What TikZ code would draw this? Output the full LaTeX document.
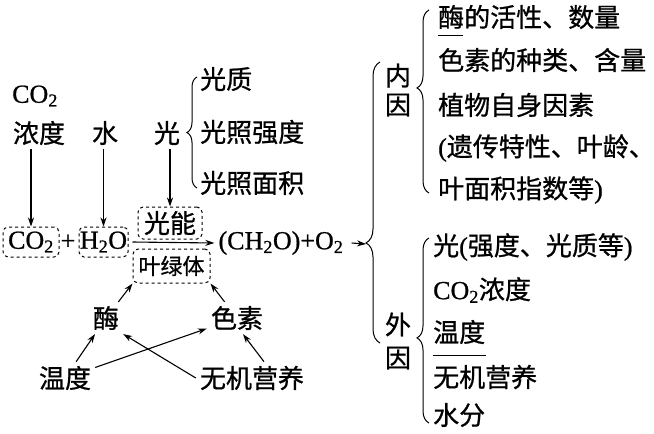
\documentclass[tikz,border=0pt]{standalone}
\usepackage{fontspec}
\setmainfont{Liberation Serif}[FakeBold=0.8]
\newfontfamily\cjk{Noto Sans CJK SC}[FakeBold=0.8]
\usetikzlibrary{decorations.pathreplacing, arrows.meta}

\tikzset{
  txt/.style={inner sep=4pt},
  dbox/.style={draw, dashed, rounded corners=5pt, line width=1pt, inner sep=0pt},
  arr/.style={-{Stealth[length=9pt, width=6pt]}, line width=1.1pt},
  brc/.style={decorate, decoration={brace, amplitude=12pt}, line width=1pt},
}

\begin{document}
\begin{tikzpicture}[x=1pt, y=-1pt, font=\fontsize{26}{30}\selectfont]
\useasboundingbox (0,0) rectangle (654,434);

% Factors above the equation
\node[txt, anchor=west] (co2t) at (8,96) {CO\textsubscript{2}};
\node[txt] (nongdu) at (39,133) {\cjk 浓度};
\node[txt] (shui) at (105,133) {\cjk 水};
\node[txt] (guang) at (167,133) {\cjk 光};
\node[txt, anchor=west] (guangzhi) at (196,79) {\cjk 光质};
\node[txt, anchor=west] (qiangdu) at (196,132) {\cjk 光照强度};
\node[txt, anchor=west] (mianji) at (196,183) {\cjk 光照面积};
\draw[brc, decoration={amplitude=10pt}] (197,188) -- (197,77);

% Equation
\node[dbox, minimum width=56pt, minimum height=30pt] (co2box) at (31,242) {CO\textsubscript{2}};
\node[txt] (plus) at (68,242) {+};
\node[dbox, minimum width=49pt, minimum height=30pt] (h2obox) at (103.5,242) {H\textsubscript{2}O};
\node[dbox, minimum width=64pt, minimum height=32pt] (guangneng) at (170,223) {\cjk 光能};
\node[dbox, minimum width=77pt, minimum height=34pt, font=\fontsize{22}{26}\selectfont] (yelvti) at (171.5,266) {\cjk 叶绿体};
\node[txt] (product) at (281,243) {(CH\textsubscript{2}O)+O\textsubscript{2}};
\draw[arr] ([xshift=4pt]h2obox.east) -- (product.west);

\draw[arr] (co2box.north |- nongdu.south) -- (co2box.north);
\draw[arr] (h2obox.north |- shui.south) -- (h2obox.north);
\draw[arr] (guangneng.north |- guang.south) -- (guangneng.north);

% Factors below the equation
\node[txt] (mei) at (106,318) {\cjk 酶};
\node[txt] (sesu) at (237,318) {\cjk 色素};
\node[txt] (wendu) at (65,378) {\cjk 温度};
\node[txt] (wuji) at (252,378) {\cjk 无机营养};
\draw[arr] (mei) -- (yelvti.south west);
\draw[arr] (sesu) -- (yelvti.south east);
\draw[arr] (wendu) -- (mei);
\draw[arr] (wendu) -- (sesu);
\draw[arr] (wuji.west) -- (mei.south east);
\draw[arr] ([xshift=12pt]wuji.north) -- ([xshift=6pt]sesu.south);

% Big brace
\coordinate (bigtip) at (366,244);
\draw[arr] ([xshift=4pt]product.east) -- (bigtip);
\draw[brc, decoration={aspect=0.356, amplitude=14pt}] (380,343) -- (380,62);

% Internal factors
\node[txt, align=center, font=\fontsize{26}{29}\selectfont\cjk] (neiyin) at (398,90) {内\\因};
\draw[brc, decoration={aspect=0.574}] (429,193) -- (429,10);
\node[txt, anchor=west] (nei1) at (434,17) {\cjk 酶的活性、数量};
\node[txt, anchor=west] (nei2) at (434,60) {\cjk 色素的种类、含量};
\node[txt, anchor=west] (nei3) at (434,105) {\cjk 植物自身因素};
\node[txt, anchor=west] (nei4) at (434,148) {({\cjk 遗传特性、叶龄、}};
\node[txt, anchor=west] (nei5) at (434,190) {{\cjk 叶面积指数等})};
\draw[line width=1pt] (438,35) -- (463,35);

% External factors
\node[txt, align=center, font=\fontsize{26}{33}\selectfont\cjk] (waiyin) at (398,341) {外\\因};
\draw[brc, decoration={aspect=0.46}] (429,423) -- (429,238);
\node[txt, anchor=west] (wai1) at (429,247) {{\cjk 光}({\cjk 强度、光质等})};
\node[txt, anchor=west] (wai2) at (429,290) {CO\textsubscript{2}{\cjk 浓度}};
\node[txt, anchor=west] (wai3) at (429,332) {\cjk 温度};
\node[txt, anchor=west] (wai4) at (429,377) {\cjk 无机营养};
\node[txt, anchor=west] (wai5) at (429,415) {\cjk 水分};
\draw[line width=1pt] (433,355) -- (486,355);

\end{tikzpicture}
\end{document}
